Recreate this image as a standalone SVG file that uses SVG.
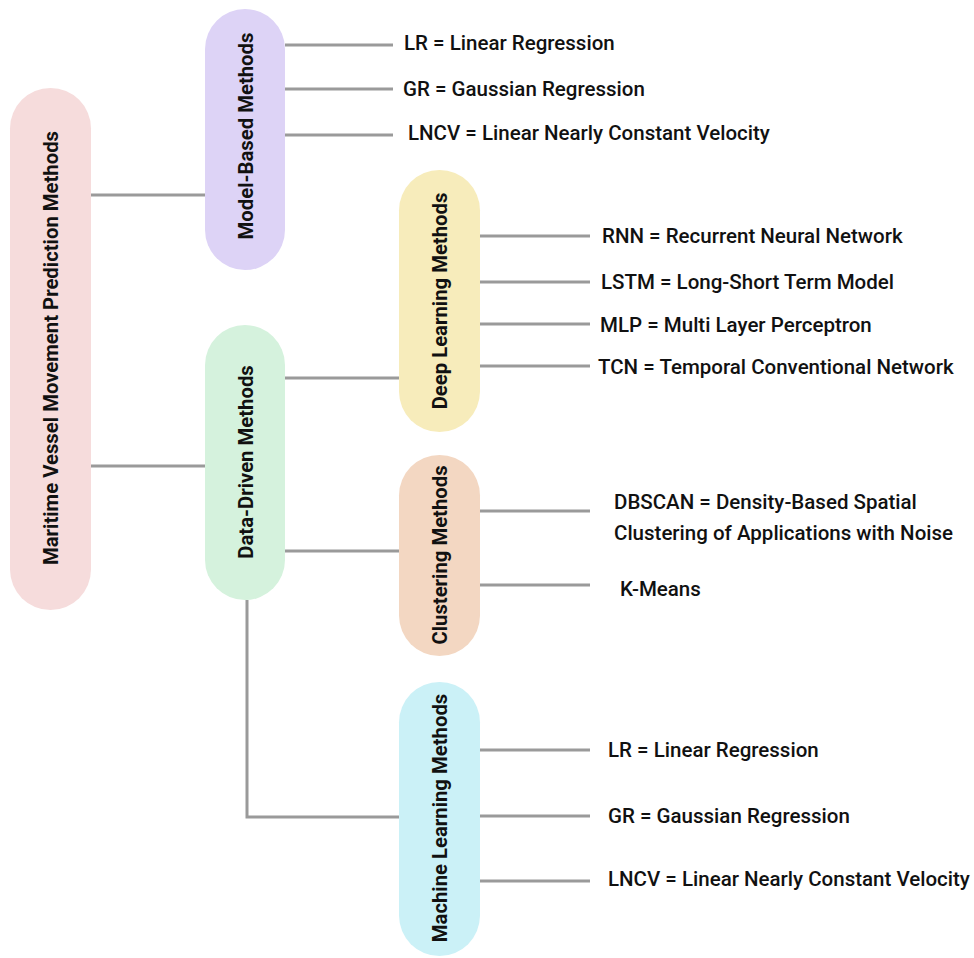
<svg xmlns="http://www.w3.org/2000/svg" width="974" height="958" viewBox="0 0 974 958">
<style>
.pill{stroke:none}
.plabel{font-family:Roboto,"Liberation Sans",sans-serif;font-weight:bold;font-size:20.3px;fill:#111;text-anchor:middle;dominant-baseline:central}
.leaf{font-family:Roboto,"Liberation Sans",sans-serif;font-weight:500;font-size:20.5px;fill:#111;dominant-baseline:central}
.conn line,.conn path{stroke:#9a9a9a;stroke-width:3;fill:none}
</style>
<rect width="974" height="958" fill="#fff"/>
<g class="conn">
<line x1="91" y1="195" x2="205" y2="195"/>
<line x1="91" y1="466" x2="205" y2="466"/>
<line x1="285" y1="378" x2="399" y2="378"/>
<line x1="285" y1="551" x2="399" y2="551"/>
<path d="M247 600 V817 H399"/>
<line x1="285" y1="45" x2="393" y2="45"/>
<line x1="285" y1="89" x2="393" y2="89"/>
<line x1="285" y1="135" x2="393" y2="135"/>
<line x1="480" y1="236" x2="590" y2="236"/>
<line x1="480" y1="282" x2="590" y2="282"/>
<line x1="480" y1="324" x2="590" y2="324"/>
<line x1="480" y1="366" x2="590" y2="366"/>
<line x1="480" y1="511" x2="590" y2="511"/>
<line x1="480" y1="585" x2="590" y2="585"/>
<line x1="480" y1="750" x2="590" y2="750"/>
<line x1="480" y1="816" x2="590" y2="816"/>
<line x1="480" y1="881" x2="590" y2="881"/>
</g>
<g id="root">
<rect class="pill" x="10" y="88" width="81" height="522" rx="40.5" fill="#f6dcdc"/>
<text class="plabel" transform="translate(51,348) rotate(-90)">Maritime Vessel Movement Prediction Methods</text>
</g>
<g id="model-based">
<rect class="pill" x="205" y="9" width="80" height="261" rx="40" fill="#ddd3f6"/>
<text class="plabel" transform="translate(246,136) rotate(-90)">Model-Based Methods</text>
</g>
<g id="data-driven">
<rect class="pill" x="205" y="325" width="80" height="275" rx="40" fill="#d5f2dd"/>
<text class="plabel" transform="translate(246,462) rotate(-90)">Data-Driven Methods</text>
</g>
<g id="deep-learning">
<rect class="pill" x="399" y="170" width="81" height="262" rx="40.5" fill="#f7ecbb"/>
<text class="plabel" transform="translate(440,301) rotate(-90)">Deep Learning Methods</text>
</g>
<g id="clustering">
<rect class="pill" x="399" y="455" width="81" height="201" rx="40.5" fill="#f3d7c2"/>
<text class="plabel" transform="translate(440,555) rotate(-90)">Clustering Methods</text>
</g>
<g id="machine-learning">
<rect class="pill" x="399" y="682" width="81" height="274" rx="40.5" fill="#cbf1f7"/>
<text class="plabel" transform="translate(440,818) rotate(-90)">Machine Learning Methods</text>
</g>
<g id="mb-lr"><text class="leaf" x="404" y="43">LR = Linear Regression</text></g>
<g id="mb-gr"><text class="leaf" x="403" y="89">GR = Gaussian Regression</text></g>
<g id="mb-lncv"><text class="leaf" x="408" y="133">LNCV = Linear Nearly Constant Velocity</text></g>
<g id="dl-rnn"><text class="leaf" x="602" y="236">RNN = Recurrent Neural Network</text></g>
<g id="dl-lstm"><text class="leaf" x="601" y="282">LSTM = Long-Short Term Model</text></g>
<g id="dl-mlp"><text class="leaf" x="600" y="325">MLP = Multi Layer Perceptron</text></g>
<g id="dl-tcn"><text class="leaf" x="598" y="367">TCN = Temporal Conventional Network</text></g>
<g id="cl-dbscan"><text class="leaf" x="614" y="502">DBSCAN = Density-Based Spatial</text><text class="leaf" x="614" y="533">Clustering of Applications with Noise</text></g>
<g id="cl-kmeans"><text class="leaf" x="620" y="589">K-Means</text></g>
<g id="ml-lr"><text class="leaf" x="608" y="750">LR = Linear Regression</text></g>
<g id="ml-gr"><text class="leaf" x="608" y="816">GR = Gaussian Regression</text></g>
<g id="ml-lncv"><text class="leaf" x="608" y="879">LNCV = Linear Nearly Constant Velocity</text></g>
</svg>
